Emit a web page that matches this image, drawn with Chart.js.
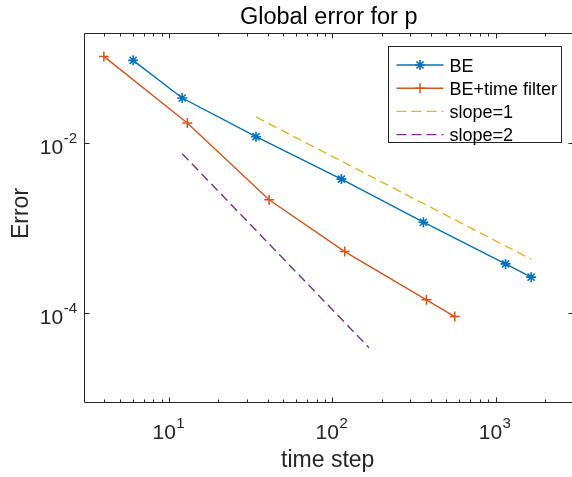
<!DOCTYPE html>
<html><head><meta charset="utf-8">
<script src="https://cdn.jsdelivr.net/npm/chart.js@4/dist/chart.umd.min.js"></script>
<style>
html,body{margin:0;padding:0;overflow:hidden;background:#fff;width:572px;height:477px}
#wrap{position:absolute;left:0;top:0;width:580px;height:477px}
</style></head>
<body><div id="wrap"><canvas id="c" width="580" height="477"></canvas></div>
<script>
// ---- data ----
const titleText = 'Global error for p';
const xLabel = 'time step';
const yLabel = 'Error';
const seriesNames = ['BE', 'BE+time filter', 'slope=1', 'slope=2'];

const beX = [6, 12, 34, 113.5, 361, 1151, 1652];
const beY = [0.0953, 0.0343, 0.0120, 0.0038, 0.00118, 3.81e-4, 2.66e-4];
const tfX = [3.97, 12.9, 40.9, 119, 377, 562];
const tfY = [0.106, 0.0174, 0.00217, 5.32e-4, 1.44e-4, 9.12e-5];
const s1X = [34, 1652];
const s1Y = [0.0205, 4.33e-4];
const s2X = [12, 167.5];
const s2Y = [0.00756, 3.93e-5];

const xMajorTicks = [10, 100, 1000];
const xMajorExp = ['1', '2', '3'];
const xMinorTicks = [4,5,6,7,8,9,20,30,40,50,60,70,80,90,200,300,400,500,600,700,800,900,2000];
const yMajorTicks = [1e-4, 1e-2];
const yMajorExp = ['-4', '-2'];

const xMin = 3, xMax = 3000, yMin = 9e-6, yMax = 0.2;

const colors = ['#0072BD', '#D95319', '#EDB120', '#7E2F8E'];
const FONT = '"Liberation Sans", Arial, Helvetica, sans-serif';
const AX = '#262626';

function pts(xs, ys) { return xs.map((x, i) => ({x: x, y: ys[i]})); }

function drawMarker(ctx, style, x, y, r, color, lw) {
  ctx.save();
  ctx.strokeStyle = color; ctx.lineWidth = lw;
  ctx.beginPath();
  ctx.moveTo(x - r, y); ctx.lineTo(x + r, y);
  ctx.moveTo(x, y - r); ctx.lineTo(x, y + r);
  if (style === 'star') {
    const d = r * Math.SQRT1_2;
    ctx.moveTo(x - d, y - d); ctx.lineTo(x + d, y + d);
    ctx.moveTo(x - d, y + d); ctx.lineTo(x + d, y - d);
  }
  ctx.stroke();
  ctx.restore();
}

function powLabel(ctx, base, exp, x, baseY, align) {
  ctx.font = '21px ' + FONT;
  const wb = ctx.measureText(base).width;
  ctx.font = '15px ' + FONT;
  const we = ctx.measureText(exp).width;
  let left;
  if (align === 'center') left = x - (wb + we) / 2;
  else left = x - (wb + we);
  ctx.textAlign = 'left';
  ctx.textBaseline = 'alphabetic';
  ctx.font = '21px ' + FONT;
  ctx.fillText(base, left, baseY);
  ctx.font = '15px ' + FONT;
  ctx.fillText(exp, left + wb + 0.5, baseY - 11);
}

const axesPlugin = {
  id: 'matlabAxes',
  beforeDatasetsDraw(chart) {
    const ctx = chart.ctx, a = chart.chartArea;
    const xs = chart.scales.x, ys = chart.scales.y;
    ctx.save();
    ctx.strokeStyle = AX; ctx.lineWidth = 1;
    const L = Math.round(a.left) + 0.5, R = Math.round(a.right) + 0.5;
    const T = Math.round(a.top) + 0.5, B = Math.round(a.bottom) + 0.5;
    ctx.beginPath();
    ctx.rect(L, T, R - L, B - T);
    ctx.stroke();
    ctx.beginPath();
    xMajorTicks.forEach(v => {
      const p = Math.round(xs.getPixelForValue(v)) + 0.5;
      ctx.moveTo(p, B); ctx.lineTo(p, B - 5);
      ctx.moveTo(p, T); ctx.lineTo(p, T + 5);
    });
    xMinorTicks.forEach(v => {
      const p = Math.round(xs.getPixelForValue(v)) + 0.5;
      ctx.moveTo(p, B); ctx.lineTo(p, B - 3);
      ctx.moveTo(p, T); ctx.lineTo(p, T + 3);
    });
    yMajorTicks.forEach(v => {
      const p = Math.round(ys.getPixelForValue(v)) + 0.5;
      ctx.moveTo(L, p); ctx.lineTo(L + 5, p);
      ctx.moveTo(R, p); ctx.lineTo(R - 5, p);
    });
    ctx.stroke();

    ctx.fillStyle = AX;
    xMajorTicks.forEach((v, i) => {
      const p = xs.getPixelForValue(v);
      powLabel(ctx, '10', xMajorExp[i], p - 1, B + 36, 'center');
    });
    yMajorTicks.forEach((v, i) => {
      const p = ys.getPixelForValue(v);
      powLabel(ctx, '10', yMajorExp[i], L - 8, p + 11, 'right');
    });

    const cx = (a.left + a.right) / 2;
    ctx.textAlign = 'center';
    ctx.textBaseline = 'alphabetic';
    ctx.font = '23.5px ' + FONT;
    ctx.fillStyle = '#000';
    ctx.fillText(titleText, cx, 24);
    ctx.fillStyle = AX;
    ctx.font = '23px ' + FONT;
    ctx.fillText(xLabel, cx - 1, 467);
    ctx.save();
    ctx.translate(28, (a.top + a.bottom) / 2 - 4);
    ctx.rotate(-Math.PI / 2);
    ctx.fillText(yLabel, 0, 0);
    ctx.restore();
    ctx.restore();
  },
  afterDatasetsDraw(chart) {
    const ctx = chart.ctx;
    ctx.save();
    const bx = 388.5, by = 46.5, bw = 173, bh = 96;
    ctx.fillStyle = '#fff';
    ctx.fillRect(bx, by, bw, bh);
    ctx.strokeStyle = AX; ctx.lineWidth = 1;
    ctx.strokeRect(bx, by, bw, bh);
    chart.data.datasets.forEach((ds, i) => {
      const yc = 65 + 23.2 * i;
      ctx.save();
      ctx.strokeStyle = ds.borderColor;
      ctx.lineWidth = ds.borderWidth;
      ctx.setLineDash(ds.borderDash ? [10, 5] : []);
      ctx.beginPath();
      ctx.moveTo(396.5, yc); ctx.lineTo(443.5, yc);
      ctx.stroke();
      ctx.restore();
      if (ds.pointRadius > 0) {
        drawMarker(ctx, ds.pointStyle, 420, yc, ds.pointRadius, ds.borderColor, ds.pointBorderWidth);
      }
      ctx.fillStyle = '#000';
      ctx.font = '18px ' + FONT;
      ctx.textAlign = 'left';
      ctx.textBaseline = 'alphabetic';
      ctx.fillText(ds.label, 449.5, yc + 6.5);
    });
    ctx.restore();
  }
};

const common = {showLine: true, fill: false, tension: 0, borderWidth: 1.4};

new Chart(document.getElementById('c'), {
  type: 'line',
  data: {
    datasets: [
      Object.assign({label: seriesNames[0], data: pts(beX, beY), borderColor: colors[0],
        pointStyle: 'star', pointRadius: 5, pointBorderWidth: 1.6, pointBorderColor: colors[0],
        pointBackgroundColor: colors[0]}, common),
      Object.assign({label: seriesNames[1], data: pts(tfX, tfY), borderColor: colors[1],
        pointStyle: 'cross', pointRadius: 5, pointBorderWidth: 1.5, pointBorderColor: colors[1],
        pointBackgroundColor: colors[1]}, common),
      Object.assign({label: seriesNames[2], data: pts(s1X, s1Y), borderColor: colors[2],
        borderDash: [9, 5], pointRadius: 0, pointBorderWidth: 0}, common),
      Object.assign({label: seriesNames[3], data: pts(s2X, s2Y), borderColor: colors[3],
        borderDash: [9, 5], pointRadius: 0, pointBorderWidth: 0}, common)
    ]
  },
  options: {
    responsive: false,
    animation: false,
    devicePixelRatio: 1,
    layout: {padding: {left: 84, top: 33, right: 3, bottom: 75}},
    plugins: {legend: {display: false}, tooltip: {enabled: false}, title: {display: false}},
    scales: {
      x: {type: 'logarithmic', min: xMin, max: xMax, display: false},
      y: {type: 'logarithmic', min: yMin, max: yMax, display: false}
    },
    elements: {point: {hoverRadius: 5}}
  },
  plugins: [axesPlugin]
});
</script>
</body></html>
